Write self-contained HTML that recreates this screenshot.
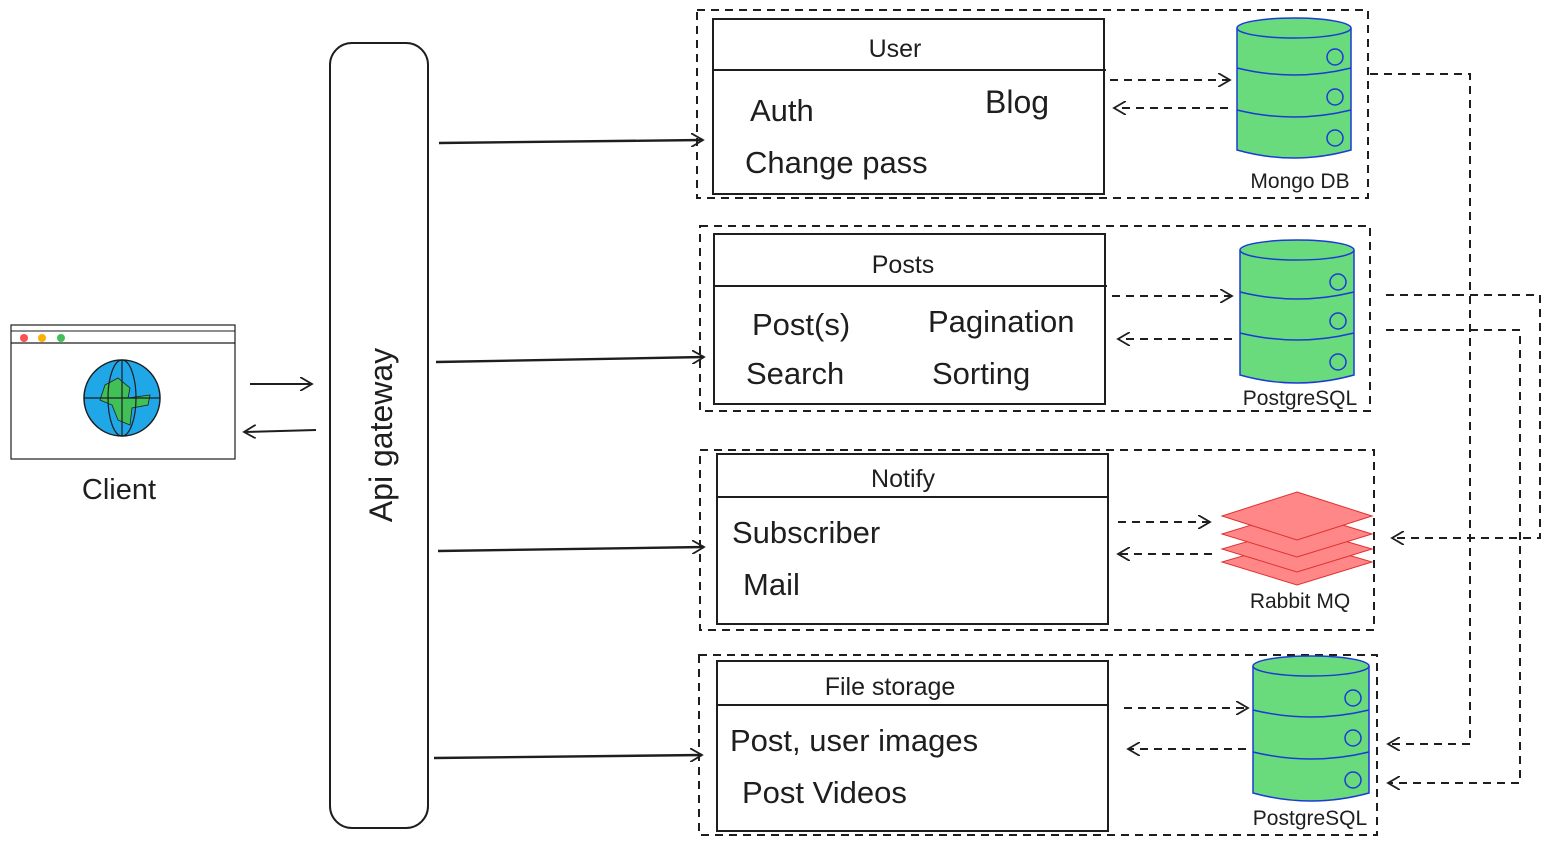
<!DOCTYPE html>
<html><head><meta charset="utf-8"><style>
html,body{margin:0;padding:0;background:#fff;}
svg{display:block;}
text{font-family:"Liberation Sans",sans-serif;fill:#1e1e1e;}
</style></head><body>
<svg width="1555" height="845" viewBox="0 0 1555 845" xmlns="http://www.w3.org/2000/svg">
<defs>
<marker id="ah" markerWidth="14" markerHeight="14" refX="12" refY="7" orient="auto" markerUnits="userSpaceOnUse">
<path d="M0,0 L12,7 L0,14" fill="none" stroke="#1e1e1e" stroke-width="1.8"/>
</marker>
</defs>
<g fill="none" stroke="#1e1e1e" stroke-width="2">
<rect x="11" y="325" width="224" height="134" stroke-width="1.2"/>
<line x1="11" y1="343" x2="235" y2="343" stroke-width="1.2"/>
<line x1="11" y1="331" x2="235" y2="331" stroke-width="1"/>
</g>
<circle cx="24" cy="338" r="4" fill="#fa5252"/>
<circle cx="42" cy="338" r="4" fill="#fab005"/>
<circle cx="61" cy="338" r="4" fill="#40c057"/>
<circle cx="122" cy="398" r="38" fill="#1fa7e8" stroke="#1e1e1e" stroke-width="1.5"/>
<path d="M105,385 L118,378 L130,388 L128,398 L150,395 L148,405 L132,408 L130,425 L118,420 L112,405 L100,400 Z" fill="#40c057" stroke="#1e1e1e" stroke-width="0.8"/>
<g fill="none" stroke="#1e1e1e" stroke-width="1.2">
<ellipse cx="122" cy="398" rx="14" ry="38"/>
<line x1="84" y1="398" x2="160" y2="398"/>
<line x1="122" y1="360" x2="122" y2="436"/>
</g>
<text x="119" y="499" font-size="29" text-anchor="middle">Client</text>

<g fill="none" stroke="#1e1e1e" stroke-width="2">
<line x1="250" y1="384" x2="312" y2="384" marker-end="url(#ah)"/>
<line x1="316" y1="430" x2="244" y2="432" marker-end="url(#ah)"/>
<rect x="330" y="43" width="98" height="785" rx="22"/>
<line x1="439" y1="143" x2="703" y2="140" marker-end="url(#ah)" stroke-width="2.4"/>
<line x1="436" y1="362" x2="704" y2="357" marker-end="url(#ah)" stroke-width="2.4"/>
<line x1="438" y1="551" x2="704" y2="547" marker-end="url(#ah)" stroke-width="2.4"/>
<line x1="434" y1="758" x2="702" y2="755" marker-end="url(#ah)" stroke-width="2.4"/>
</g>
<text transform="translate(392,435) rotate(-90)" font-size="32" text-anchor="middle">Api gateway</text>

<g fill="none" stroke="#1e1e1e" stroke-width="2" stroke-dasharray="8,6">
<rect x="697" y="10" width="671" height="188"/>
<rect x="700" y="226" width="670" height="185"/>
<rect x="700" y="450" width="674" height="180"/>
<rect x="699" y="655" width="678" height="180"/>
</g>
<g fill="#fff" stroke="#1e1e1e" stroke-width="2">
<rect x="713" y="19" width="391" height="175"/>
<line x1="713" y1="70" x2="1106" y2="70"/>
<rect x="714" y="234" width="391" height="170"/>
<line x1="714" y1="286" x2="1107" y2="286"/>
<rect x="717" y="454" width="391" height="170"/>
<line x1="717" y1="497" x2="1108" y2="497"/>
<rect x="717" y="661" width="391" height="170"/>
<line x1="717" y1="705" x2="1108" y2="705"/>
</g>
<text x="895" y="57" font-size="25" text-anchor="middle">User</text>
<text x="750" y="121" font-size="31">Auth</text>
<text x="985" y="113" font-size="32">Blog</text>
<text x="745" y="173" font-size="31">Change pass</text>
<text x="903" y="273" font-size="25" text-anchor="middle">Posts</text>
<text x="752" y="335" font-size="31">Post(s)</text>
<text x="928" y="332" font-size="31">Pagination</text>
<text x="746" y="384" font-size="31">Search</text>
<text x="932" y="384" font-size="31">Sorting</text>
<text x="903" y="487" font-size="25" text-anchor="middle">Notify</text>
<text x="732" y="543" font-size="31">Subscriber</text>
<text x="743" y="595" font-size="31">Mail</text>
<text x="890" y="695" font-size="25" text-anchor="middle">File storage</text>
<text x="730" y="751" font-size="31">Post, user images</text>
<text x="742" y="803" font-size="31">Post Videos</text>

<g stroke="#1a3bd6" stroke-width="1.5" fill="#69db7c">
<path d="M1237,28 L1237,150 Q1294,166 1351,150 L1351,28"/>
<ellipse cx="1294" cy="28" rx="57" ry="10"/>
<path d="M1237,68 Q1294,82 1351,68 M1237,110 Q1294,124 1351,110" fill="none"/>
<circle cx="1335" cy="57" r="8" fill="none"/><circle cx="1335" cy="97" r="8" fill="none"/><circle cx="1335" cy="138" r="8" fill="none"/>
<path d="M1240,250 L1240,375 Q1297,391 1354,375 L1354,250"/>
<ellipse cx="1297" cy="250" rx="57" ry="10"/>
<path d="M1240,292 Q1297,306 1354,292 M1240,333 Q1297,347 1354,333" fill="none"/>
<circle cx="1338" cy="282" r="8" fill="none"/><circle cx="1338" cy="321" r="8" fill="none"/><circle cx="1338" cy="362" r="8" fill="none"/>
<path d="M1253,666 L1253,793 Q1311,809 1369,793 L1369,666"/>
<ellipse cx="1311" cy="666" rx="58" ry="10"/>
<path d="M1253,710 Q1311,724 1369,710 M1253,752 Q1311,766 1369,752" fill="none"/>
<circle cx="1353" cy="698" r="8" fill="none"/><circle cx="1353" cy="738" r="8" fill="none"/><circle cx="1353" cy="780" r="8" fill="none"/>
</g>
<text x="1300" y="188" font-size="21" text-anchor="middle">Mongo DB</text>
<text x="1300" y="405" font-size="21" text-anchor="middle">PostgreSQL</text>
<text x="1310" y="825" font-size="21" text-anchor="middle">PostgreSQL</text>
<g fill="#ff8787" stroke="#e03131" stroke-width="1">
<path d="M1297,540 L1372,562 L1297,585 L1222,562 Z"/>
<path d="M1297,527 L1372,549 L1297,572 L1222,549 Z"/>
<path d="M1297,511 L1372,534 L1297,557 L1222,534 Z"/>
<path d="M1297,492 L1372,516 L1297,540 L1222,516 Z"/>
</g>
<text x="1300" y="608" font-size="21" text-anchor="middle">Rabbit MQ</text>

<g fill="none" stroke="#1e1e1e" stroke-width="2" stroke-dasharray="8,6">
<line x1="1110" y1="80" x2="1230" y2="80" marker-end="url(#ah)"/>
<line x1="1228" y1="108" x2="1114" y2="108" marker-end="url(#ah)"/>
<line x1="1112" y1="296" x2="1232" y2="296" marker-end="url(#ah)"/>
<line x1="1232" y1="339" x2="1118" y2="339" marker-end="url(#ah)"/>
<line x1="1118" y1="522" x2="1210" y2="522" marker-end="url(#ah)"/>
<line x1="1212" y1="554" x2="1118" y2="554" marker-end="url(#ah)"/>
<line x1="1124" y1="708" x2="1248" y2="708" marker-end="url(#ah)"/>
<line x1="1246" y1="749" x2="1128" y2="749" marker-end="url(#ah)"/>
<polyline points="1370,74 1470,74 1470,744 1388,744" marker-end="url(#ah)"/>
<polyline points="1386,295 1540,295 1540,538 1392,538" marker-end="url(#ah)"/>
<polyline points="1386,330 1520,330 1520,783 1388,783" marker-end="url(#ah)"/>
</g>
</svg>
</body></html>
